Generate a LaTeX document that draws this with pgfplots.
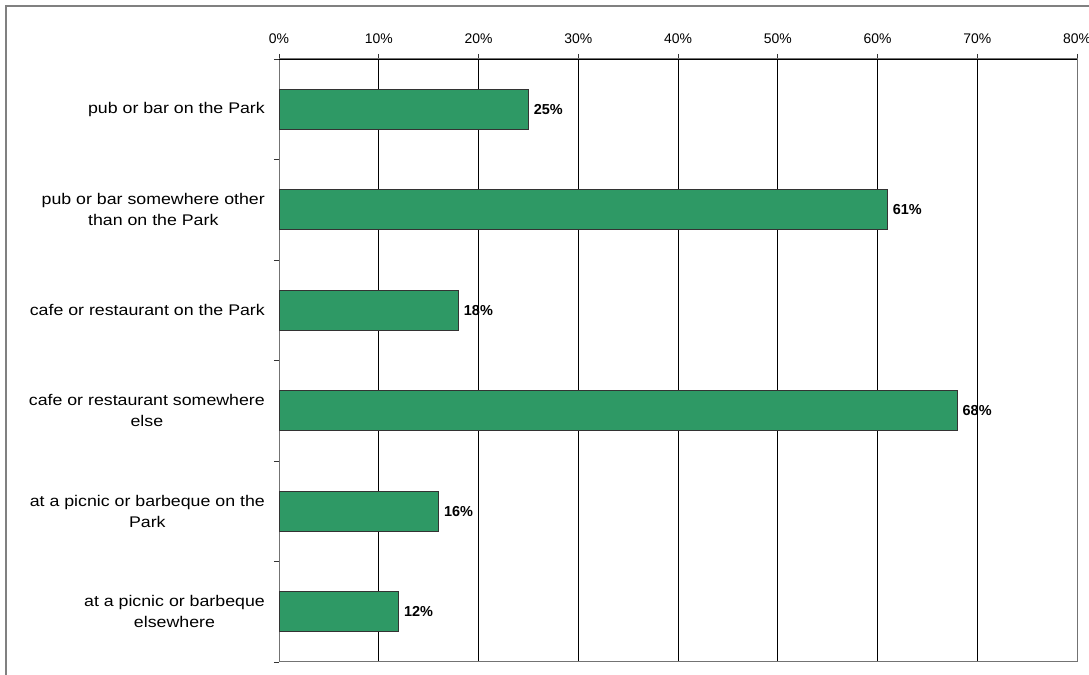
\documentclass[border=0pt]{standalone}
\usepackage{pgfplots}
\pgfplotsset{compat=1.18}
\usepackage{fontspec}
\setmainfont{Liberation Sans}
\newfontfamily\catfont[FakeStretch=1.15]{Liberation Sans}
\definecolor{bargreen}{RGB}{46,153,101}
\begin{document}
\begin{tikzpicture}
\useasboundingbox (0,0) rectangle (1089bp,675bp);
\draw[gray, line width=1.5bp] (6bp,0) -- (6bp,669bp) -- (1089bp,669bp);
\begin{axis}[
  at={(279bp,13bp)}, anchor=south west,
  scale only axis, width=798bp, height=603bp,
  xbar, bar width=0.4,
  xmin=0, xmax=80, ymin=-0.5, ymax=5.5,
  xtick={0,10,...,80},
  xtick pos=upper, xticklabel pos=upper,
  xticklabel={\pgfmathprintnumber{\tick}\%},
  /pgf/number format/assume math mode=true,
  xticklabel style={font=\fontsize{14}{16}\selectfont, anchor=base, yshift=10bp},
  tick align=outside,
  major tick length=5bp,
  tick style={black!80, line width=0.8bp},
  xmajorgrids, grid style={black, line width=0.8bp},
  axis line style={black!55, line width=1bp},
  ytick={-0.5,0.5,...,5.5}, yticklabels={,,,,,,,},
  ytick pos=left,
  extra y ticks={0,1,2,3,4,5},
  extra y tick labels={at a picnic or barbeque\\elsewhere, at a picnic or barbeque on the\\Park, cafe or restaurant somewhere\\else, cafe or restaurant on the Park, pub or bar somewhere other\\than on the Park, pub or bar on the Park},
  extra y tick style={major tick length=0pt, ymajorgrids=false,
    yticklabel style={font=\catfont\fontsize{15.5}{21.5}\selectfont, align=center, anchor=east, inner sep=0pt, xshift=-14bp}},
  nodes near coords={\pgfmathprintnumber{\pgfplotspointmeta}\%},
  nodes near coords style={font=\bfseries\fontsize{14.5}{16}\selectfont, anchor=west, inner sep=0pt, xshift=5bp, text=black},
  point meta=x,
]
\addplot[fill=bargreen, draw=black!80, line width=0.8bp] coordinates {(12,0) (16,1) (68,2) (18,3) (61,4) (25,5)};
\draw[black, line width=0.8bp] (rel axis cs:0,1) -- (rel axis cs:1,1);
\end{axis}
\end{tikzpicture}
\end{document}
